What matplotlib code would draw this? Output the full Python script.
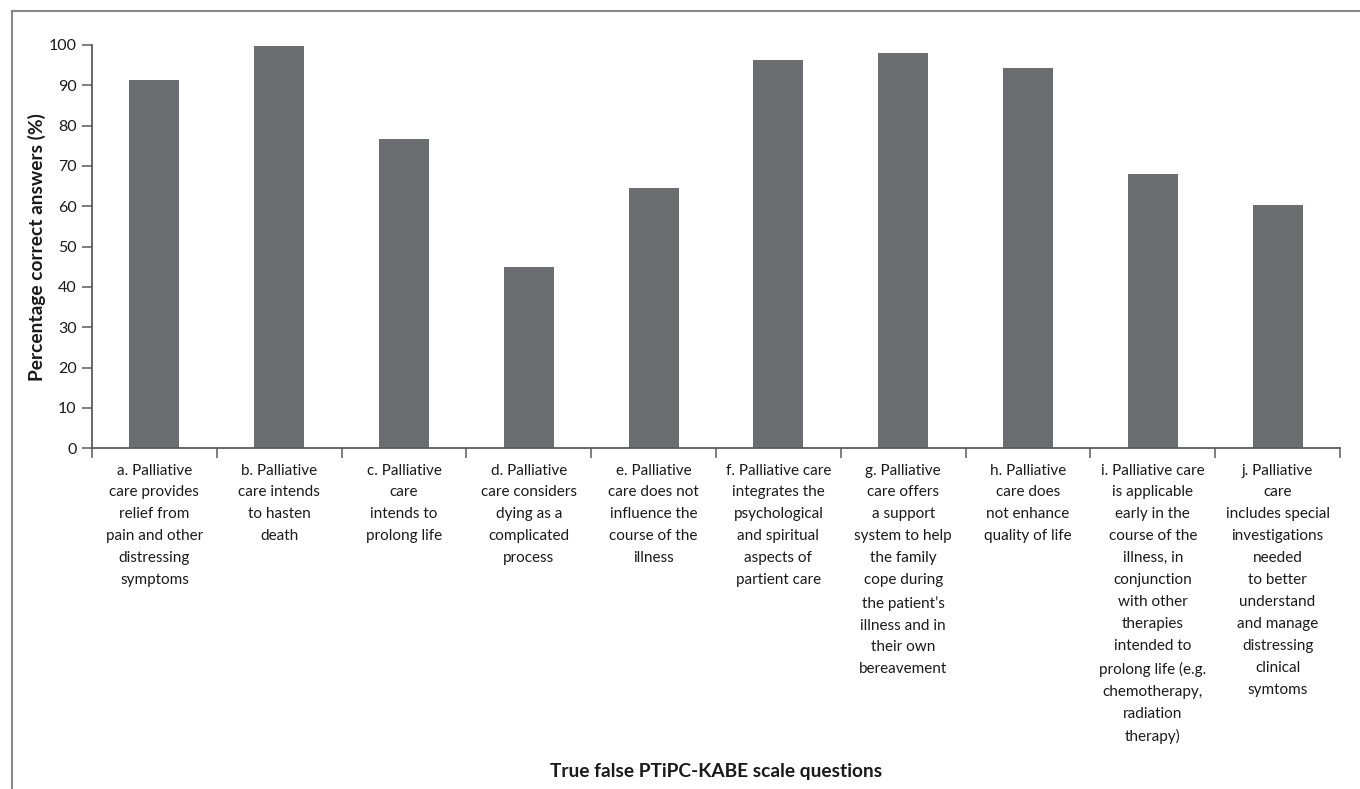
import matplotlib
matplotlib.use("Agg")
import matplotlib.pyplot as plt
from matplotlib.lines import Line2D
import numpy as np

plt.rcParams['font.family'] = ['Lato', 'DejaVu Sans']

categories = [
    "a. Palliative\ncare provides\nrelief from\npain and other\ndistressing\nsymptoms",
    "b. Palliative\ncare intends\nto hasten\ndeath",
    "c. Palliative\ncare\nintends to\nprolong life",
    "d. Palliative\ncare considers\ndying as a\ncomplicated\nprocess",
    "e. Palliative\ncare does not\ninfluence the\ncourse of the\nillness",
    "f. Palliative care\nintegrates the\npsychological\nand spiritual\naspects of\npartient care",
    "g. Palliative\ncare offers\na support\nsystem to help\nthe family\ncope during\nthe patient\u2019s\nillness and in\ntheir own\nbereavement",
    "h. Palliative\ncare does\nnot enhance\nquality of life",
    "i. Palliative care\nis applicable\nearly in the\ncourse of the\nillness, in\nconjunction\nwith other\ntherapies\nintended to\nprolong life (e.g.\nchemotherapy,\nradiation\ntherapy)",
    "j. Palliative\ncare\nincludes special\ninvestigations\nneeded\nto better\nunderstand\nand manage\ndistressing\nclinical\nsymtoms",
]
values = [91.4, 99.8, 76.7, 45.0, 64.6, 96.4, 98.1, 94.4, 68.1, 60.4]
y_ticks = [0, 10, 20, 30, 40, 50, 60, 70, 80, 90, 100]
y_label = "Percentage correct answers (%)"
x_label = "True false PTiPC-KABE scale questions"

W, H = 1360, 789
fig = plt.figure(figsize=(W / 100, H / 100), dpi=100)
ax = fig.add_axes([92 / W, 1 - 448.3 / H, (1340 - 92) / W, (448.3 - 45) / H])

x = np.arange(len(values))
ax.bar(x, values, width=0.4, color="#6c6d71", zorder=2)
ax.set_xlim(-0.5, len(values) - 0.5)
ax.set_ylim(0, 100)

axis_color = "#5a5a5a"
text_color = "#1a1a1a"
for s in ["top", "right"]:
    ax.spines[s].set_visible(False)
for s in ["left", "bottom"]:
    ax.spines[s].set_color(axis_color)
    ax.spines[s].set_linewidth(1.3)

ax.set_yticks(y_ticks)
ax.set_yticklabels([str(v) for v in y_ticks], fontsize=11.5, color=text_color)
ax.tick_params(axis="y", direction="out", length=7, width=1.1, color=axis_color, pad=4)

ax.set_xticks(x)
ax.set_xticklabels(categories, fontsize=11, color=text_color, linespacing=1.72, va="top")
ax.tick_params(axis="x", which="major", length=0, pad=11)
ax.set_xticks(np.arange(-0.5, len(values) + 0.5, 1), minor=True)
ax.tick_params(axis="x", which="minor", direction="out", length=7, width=1.1, color=axis_color)

fig.text(37 / W, 1 - 247 / H, y_label, rotation=90, ha="center", va="center",
         fontsize=13.8, fontweight="bold", color=text_color)
fig.text(716 / W, 1 - 772 / H, x_label, ha="center", va="center",
         fontsize=13.8, fontweight="bold", color=text_color)

# outer frame (top and left edges visible)
fig.add_artist(Line2D([12 / W, 1.0], [1 - 11 / H, 1 - 11 / H], transform=fig.transFigure,
                      color="#888888", linewidth=1.5))
fig.add_artist(Line2D([12 / W, 12 / W], [1 - 11 / H, 0.0], transform=fig.transFigure,
                      color="#888888", linewidth=1.5))

fig.savefig("out.png", dpi=100)
